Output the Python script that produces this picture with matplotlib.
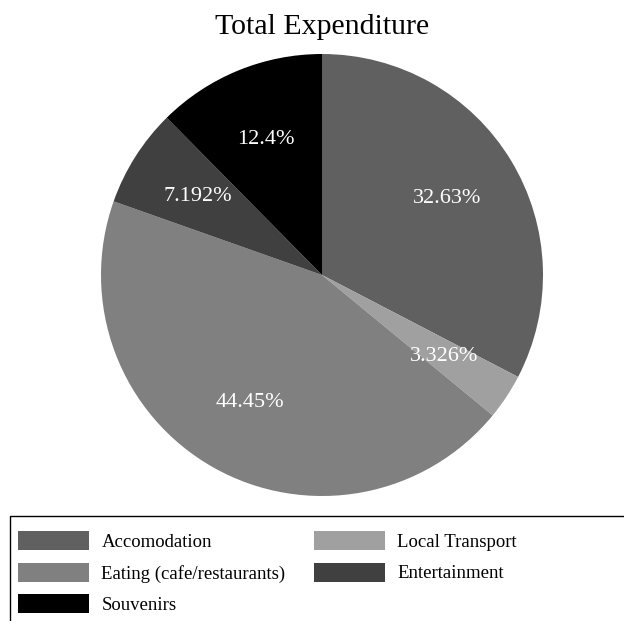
import matplotlib.pyplot as plt
from matplotlib.patches import Rectangle

plt.rcParams['font.family'] = ['Liberation Serif', 'DejaVu Serif']

categories = ['Accomodation', 'Local Transport', 'Eating (cafe/restaurants)',
              'Entertainment', 'Souvenirs']
shares = [32.63, 3.326, 44.45, 7.192, 12.4]
colors = ['#606060', '#a0a0a0', '#808080', '#404040', '#000000']

W, H = 624, 621
fig = plt.figure(figsize=(W / 100, H / 100), dpi=100)

# pie centred at (322, 275) px, radius 221 px
cx, cy, r = 322, 275, 221
ax = fig.add_axes([(cx - r) / W, (H - cy - r) / H, 2 * r / W, 2 * r / H])
wedges, _, pcts = ax.pie(shares, colors=colors, startangle=90, counterclock=False,
                         autopct=lambda p: '{:.4g}%'.format(p), pctdistance=0.665,
                         textprops=dict(color='white', fontsize=16))
ax.set_xlim(-1, 1)
ax.set_ylim(-1, 1)
ax.set_aspect('equal')

fig.text(322 / W, 1 - 27 / H, 'Total Expenditure', ha='center', va='center', fontsize=21.5)

# legend frame runs off the right and bottom edges
fig.patches.append(Rectangle((10 / W, -0.05), 1.0, (H - 516) / H + 0.05,
                             transform=fig.transFigure, facecolor='white',
                             edgecolor='black', lw=1, zorder=0))

# legend fills column by column, so reorder to read row by row
order = [0, 2, 4, 1, 3]
fig.legend([wedges[i] for i in order], [categories[i] for i in order],
           loc='upper left', bbox_to_anchor=(18 / W, 1 - 531 / H), ncol=2,
           frameon=False, fontsize=13.5, borderaxespad=0, borderpad=0,
           handlelength=3.8, handleheight=1.2, handletextpad=0.65,
           labelspacing=0.62, columnspacing=1.5)

fig.savefig('out.png', dpi=100)
